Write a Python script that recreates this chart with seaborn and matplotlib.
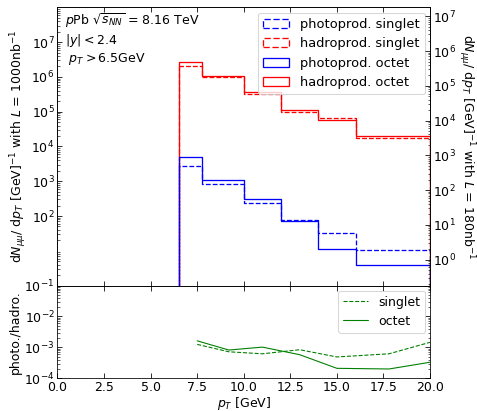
import numpy as np
import matplotlib
matplotlib.use("Agg")
import matplotlib.pyplot as plt
from matplotlib.ticker import LogLocator, MultipleLocator, NullFormatter, LogFormatterMathtext
import seaborn as sns

# pT bin edges [GeV]
edges = [6.5, 7.75, 10.0, 12.0, 14.0, 16.0, 20.0]

# dN/dpT per bin for L = 1000 nb^-1
hadro_octet = [2.75e6, 1.03e6, 3.7e5, 1.14e5, 5.6e4, 2.0e4]
hadro_singlet = [2.05e6, 0.98e6, 3.2e5, 1.0e5, 6.5e4, 1.73e4]
photo_octet = [4.9e3, 1.07e3, 3.1e2, 74.0, 11.1, 3.84]
photo_singlet = [2.77e3, 8.1e2, 2.3e2, 79.0, 32.0, 10.4]

# photo/hadro ratio curves
ratio_pt = [7.5, 9.2, 11.0, 13.0, 15.0, 17.8, 20.0]
ratio_singlet = [1.25e-3, 7.2e-4, 6.2e-4, 8.4e-4, 4.9e-4, 6.2e-4, 1.46e-3]
ratio_octet = [1.63e-3, 8.2e-4, 1.02e-3, 5.8e-4, 2.1e-4, 2.0e-4, 3.3e-4]

lumi_main = 1000.0
lumi_alt = 180.0

sns.set_style("ticks", {"axes.edgecolor": "black", "text.color": "black",
                        "axes.labelcolor": "black", "xtick.color": "black",
                        "ytick.color": "black"})
plt.rcParams["font.family"] = ["DejaVu Sans"]
plt.rcParams["font.size"] = 12.5
plt.rcParams["mathtext.fontset"] = "dejavusans"

fig = plt.figure(figsize=(477 / 72, 411 / 72), dpi=72)
gs = fig.add_gridspec(2, 1, height_ratios=[3, 1], hspace=0,
                      left=0.1205, right=0.9015, top=0.982, bottom=0.0796)
ax = fig.add_subplot(gs[0])
ax2 = fig.add_subplot(gs[1], sharex=ax)

centers = [(a + b) / 2 for a, b in zip(edges[:-1], edges[1:])]
series = [
    ("hadroprod. singlet", hadro_singlet, "red", "--"),
    ("hadroprod. octet", hadro_octet, "red", "-"),
    ("photoprod. singlet", photo_singlet, "blue", "--"),
    ("photoprod. octet", photo_octet, "blue", "-"),
]
ax.set_yscale("log")
handles = {}
for label, vals, col, ls in series:
    sns.histplot(x=centers, weights=vals, bins=edges, element="step", fill=True,
                 color=col, facecolor="none", edgecolor=col, linestyle=ls,
                 linewidth=1.3, label=label, ax=ax)
    handles[label] = ax.collections[-1]

ax.set_xlim(0, 20)
ax.set_ylim(1, 1e8)
ax.set_ylabel(r"d$N_{\mu\mu}$/ d$p_T$ [GeV]$^{-1}$ with $L$ = 1000nb$^{-1}$", labelpad=2)
ax.set_xlabel("")
ax.set_yticks([1e2, 1e3, 1e4, 1e5, 1e6, 1e7])
ax.yaxis.set_major_formatter(LogFormatterMathtext())
ax.yaxis.set_minor_locator(LogLocator(base=10, subs=np.arange(2, 10), numticks=100))
ax.yaxis.set_minor_formatter(NullFormatter())
ax.xaxis.set_major_locator(MultipleLocator(2.5))
ax.tick_params(which="both", direction="in", top=True, right=False, labelbottom=False)
ax.tick_params(which="major", length=5, pad=3)
ax.tick_params(which="minor", length=2.5)

order = ["photoprod. singlet", "hadroprod. singlet", "photoprod. octet", "hadroprod. octet"]
ax.legend([handles[k] for k in order], order, loc="upper right",
          borderaxespad=0.4, handlelength=2.0, fontsize=13)

ax.text(0.02, 0.985,
        "$p$Pb $\\sqrt{s_{NN}}$ = 8.16 TeV\n$|y| < 2.4$\n $p_T > 6.5$GeV",
        transform=ax.transAxes, ha="left", va="top", linespacing=1.15)

# right axis: same spectra rescaled to the smaller luminosity
axr = ax.twinx()
axr.set_yscale("log")
lo, hi = ax.get_ylim()
axr.set_ylim(lo * lumi_alt / lumi_main, hi * lumi_alt / lumi_main)
axr.yaxis.set_major_locator(LogLocator(base=10, subs=(1.0,), numticks=20))
axr.yaxis.set_minor_locator(LogLocator(base=10, subs=np.arange(2, 10), numticks=100))
axr.yaxis.set_minor_formatter(NullFormatter())
axr.tick_params(which="both", direction="in")
axr.tick_params(which="major", length=5, pad=3)
axr.tick_params(which="minor", length=2.5)
axr.set_ylabel(r"d$N_{\mu\mu}$/ d$p_T$ [GeV]$^{-1}$ with $L$ = 180nb$^{-1}$",
               rotation=270, va="bottom", labelpad=0)

# ratio panel
sns.lineplot(x=ratio_pt, y=ratio_singlet, color="green", linestyle="--",
             linewidth=1.1, label="singlet", ax=ax2)
sns.lineplot(x=ratio_pt, y=ratio_octet, color="green", linestyle="-",
             linewidth=1.1, label="octet", ax=ax2)
ax2.set_yscale("log")
ax2.set_ylim(1e-4, 1e-1)
ax2.set_xlim(0, 20)
ax2.yaxis.set_major_locator(LogLocator(base=10, subs=(1.0,), numticks=20))
ax2.yaxis.set_minor_locator(LogLocator(base=10, subs=np.arange(2, 10), numticks=100))
ax2.yaxis.set_minor_formatter(NullFormatter())
ax2.xaxis.set_major_locator(MultipleLocator(2.5))
ax2.tick_params(which="both", direction="in", top=True, right=True)
ax2.tick_params(which="major", length=5, pad=3)
ax2.tick_params(which="minor", length=2.5)
ax2.set_ylabel("photo./hadro.", labelpad=2)
ax2.set_xlabel("$p_T$ [GeV]", labelpad=1)
ax2.legend(loc="upper right", borderaxespad=0.4)

fig.savefig("out.png", dpi=72)
